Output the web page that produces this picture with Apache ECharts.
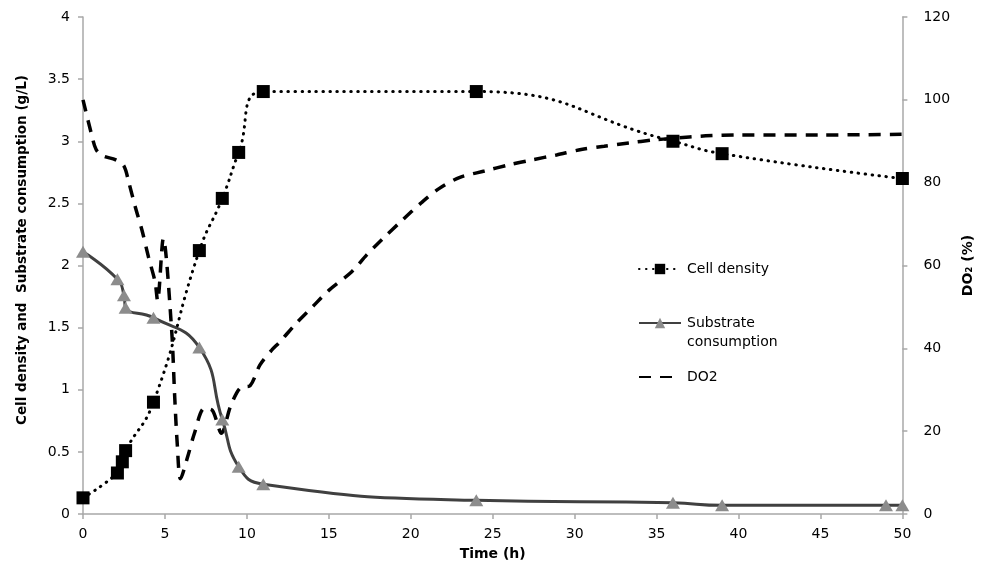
<!DOCTYPE html>
<html>
<head>
<meta charset="utf-8">
<script src="https://cdn.jsdelivr.net/npm/echarts@6/dist/echarts.min.js"></script>
<style>
html,body{margin:0;padding:0;background:#fff;}
#chart{width:983px;height:569px;}
</style>
</head>
<body>
<div id="chart"></div>
<script>
// ---- data ----
var xTicks = [0, 5, 10, 15, 20, 25, 30, 35, 40, 45, 50];
var leftTicks = [0, 0.5, 1, 1.5, 2, 2.5, 3, 3.5, 4];
var rightTicks = [0, 20, 40, 60, 80, 100, 120];

var timeCell = [0, 2.1, 2.4, 2.6, 4.3, 7.1, 8.5, 9.5, 11, 24, 36, 39, 50];
var cellDensity = [0.13, 0.33, 0.42, 0.51, 0.9, 2.12, 2.54, 2.91, 3.4, 3.4, 3.0, 2.9, 2.7];

var timeSubstrate = [0, 2.1, 2.5, 2.6, 4.3, 7.1, 8.5, 9.5, 11, 24, 36, 39, 49, 50];
var substrate = [2.11, 1.89, 1.76, 1.66, 1.58, 1.34, 0.76, 0.38, 0.24, 0.11, 0.09, 0.07, 0.07, 0.07];

var timeDO2 = [0, 0.5, 0.8, 1.2, 2.0, 2.5, 2.8, 3.2, 3.6, 4.0, 4.4, 4.55, 4.9, 5.4, 5.6, 5.75, 5.95,
  6.4, 6.8, 7.4, 7.9, 8.45, 9.0, 9.6, 10.2, 10.8, 11.5, 12, 13, 14, 15, 16.4, 17.3, 18.3, 19.5,
  20.6, 21.7, 23, 24.5, 26, 27.4, 28.9, 30.4, 31.8, 33.3, 34.8, 36, 38, 40, 45, 50];
var do2 = [100, 92, 88, 86.5, 85.5, 84, 80, 74, 68.5, 62, 56, 51.5, 66.5, 45, 28, 17, 8.5,
  14, 19.5, 25.5, 25, 19.5, 26, 30.5, 31, 36, 39.5, 41.5, 46, 50, 54, 58.5, 62.5, 66.5, 71,
  75, 78.5, 81.3, 82.8, 84.3, 85.5, 86.7, 88, 88.8, 89.6, 90.3, 90.7, 91.3, 91.5, 91.5, 91.7];

var seriesNames = ['Cell density', 'Substrate consumption', 'DO2'];
var xTitle = 'Time (h)';
var leftTitle = 'Cell density and  Substrate consumption (g/L)';
var rightTitle = 'DO\u2082 (%)';

function pairs(xs, ys) { return xs.map(function (x, i) { return [x, ys[i]]; }); }

var FONT = '"DejaVu Sans", "Liberation Sans", Arial, sans-serif';
var AXIS_GRAY = '#a8a8a8';

var chart = echarts.init(document.getElementById('chart'), null, {renderer: 'canvas'});

function legendBox(name, top, formatter, extra) {
  var l = {
    data: [name],
    orient: 'vertical',
    left: 638,
    top: top,
    padding: 0,
    itemWidth: 42,
    itemHeight: 13,
    itemGap: 0,
    selectedMode: false,
    formatter: formatter || '{name}',
    textStyle: {fontFamily: FONT, fontSize: 14, color: '#000', lineHeight: 19, padding: [0, 0, 0, 1]}
  };
  if (extra) { for (var k in extra) l[k] = extra[k]; }
  return l;
}

chart.setOption({
  animation: false,
  backgroundColor: '#fff',
  grid: {left: 83, right: 76, top: 17, bottom: 55, containLabel: false},
  legend: [
    legendBox(seriesNames[0], 259.5),
    legendBox(seriesNames[1], 294.5, '\nSubstrate\nconsumption'),
    legendBox(seriesNames[2], 367.5, null, {itemStyle: {opacity: 0, borderWidth: 0}})
  ],
  xAxis: {
    type: 'value', min: xTicks[0], max: xTicks[xTicks.length - 1], interval: 5,
    axisLine: {show: true, lineStyle: {color: AXIS_GRAY, width: 1.5}},
    axisTick: {show: true, length: 5, lineStyle: {color: AXIS_GRAY, width: 1.5}},
    splitLine: {show: false},
    axisLabel: {margin: 13, fontFamily: FONT, fontSize: 14, color: '#000'},
    name: xTitle, nameLocation: 'middle', nameGap: 33,
    nameTextStyle: {fontFamily: FONT, fontSize: 14, fontWeight: 'bold', color: '#000'}
  },
  yAxis: [{
    type: 'value', min: leftTicks[0], max: leftTicks[leftTicks.length - 1], interval: 0.5,
    position: 'left',
    axisLine: {show: true, lineStyle: {color: AXIS_GRAY, width: 1.5}},
    axisTick: {show: true, length: 5, lineStyle: {color: AXIS_GRAY, width: 1.5}},
    splitLine: {show: false},
    axisLabel: {margin: 13, fontFamily: FONT, fontSize: 14, color: '#000'}
  }, {
    type: 'value', min: rightTicks[0], max: rightTicks[rightTicks.length - 1], interval: 20,
    position: 'right',
    axisLine: {show: true, lineStyle: {color: AXIS_GRAY, width: 1.5}},
    axisTick: {show: true, length: 5, lineStyle: {color: AXIS_GRAY, width: 1.5}},
    splitLine: {show: false},
    axisLabel: {margin: 21, fontFamily: FONT, fontSize: 14, color: '#000'},
    name: rightTitle, nameLocation: 'middle', nameGap: 51,
    nameTextStyle: {fontFamily: FONT, fontSize: 14, fontWeight: 'bold', color: '#000'}
  }],
  graphic: [{
    type: 'text',
    x: 22, y: 250,
    rotation: Math.PI / 2,
    style: {
      text: leftTitle,
      fontFamily: FONT, fontSize: 13.5, fontWeight: 'bold',
      fill: '#000',
      align: 'center', verticalAlign: 'middle',
      textAlign: 'center', textVerticalAlign: 'middle'
    }
  }],
  series: [{
    name: seriesNames[2],
    type: 'line',
    yAxisIndex: 1,
    data: pairs(timeDO2, do2),
    smooth: 0.3,
    showSymbol: false,
    symbol: 'none',
    lineStyle: {color: '#000', width: 3.5, type: [12, 9]},
    itemStyle: {color: '#000'},
    z: 2
  }, {
    name: seriesNames[1],
    type: 'line',
    yAxisIndex: 0,
    data: pairs(timeSubstrate, substrate),
    smooth: 0.5,
    symbol: 'triangle',
    symbolSize: [14, 12],
    lineStyle: {color: '#404040', width: 3},
    itemStyle: {color: '#8c8c8c'},
    z: 3
  }, {
    name: seriesNames[0],
    type: 'line',
    yAxisIndex: 0,
    data: pairs(timeCell, cellDensity),
    smooth: 0.5,
    symbol: 'rect',
    symbolSize: 13,
    lineStyle: {color: '#000', width: 3, type: [0.5, 6.5], cap: 'round'},
    itemStyle: {color: '#000'},
    z: 4
  }]
});
</script>
</body>
</html>
